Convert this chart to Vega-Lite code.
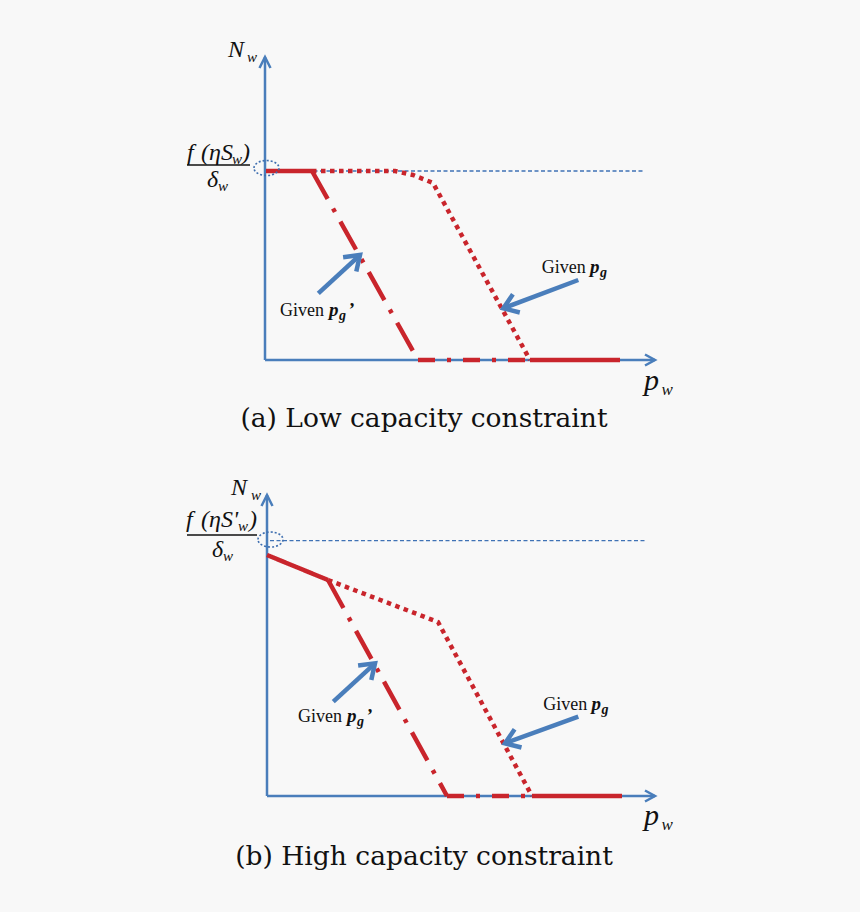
{
  "$schema": "https://vega.github.io/schema/vega-lite/v6.json",
  "background": "#f8f8f8",
  "padding": 0,
  "spacing": 0,
  "config": {"view": {"stroke": null}},
  "resolve": {"scale": {"x": "independent", "y": "independent"}},
  "datasets": {
    "linesA": [
      {"seg": "yaxis", "style": "axis", "o": 0, "x": 0, "y": 0},
      {"seg": "yaxis", "style": "axis", "o": 1, "x": 0, "y": 303},
      {"seg": "yarr", "style": "axis", "o": 0, "x": -5.5, "y": 292},
      {"seg": "yarr", "style": "axis", "o": 1, "x": 0, "y": 303},
      {"seg": "yarr", "style": "axis", "o": 2, "x": 5.5, "y": 292},
      {"seg": "xaxis", "style": "axis", "o": 0, "x": 0, "y": 0},
      {"seg": "xaxis", "style": "axis", "o": 1, "x": 390, "y": 0},
      {"seg": "xarr", "style": "axis", "o": 0, "x": 380, "y": 5.5},
      {"seg": "xarr", "style": "axis", "o": 1, "x": 390, "y": 0},
      {"seg": "xarr", "style": "axis", "o": 2, "x": 380, "y": -5.5},
      {"seg": "ref", "style": "ref", "o": 0, "x": 3, "y": 189},
      {"seg": "ref", "style": "ref", "o": 1, "x": 380, "y": 189},
      {"seg": "bar", "style": "bar", "o": 0, "x": -78, "y": 195},
      {"seg": "bar", "style": "bar", "o": 1, "x": -15, "y": 195},
      {"seg": "flat", "style": "red", "o": 0, "x": 1, "y": 189},
      {"seg": "flat", "style": "red", "o": 1, "x": 47, "y": 189},
      {"seg": "tail", "style": "red", "o": 0, "x": 265, "y": 0},
      {"seg": "tail", "style": "red", "o": 1, "x": 355, "y": 0},
      {"seg": "dd", "style": "dashdot", "o": 0, "x": 47, "y": 189},
      {"seg": "dd", "style": "dashdot", "o": 1, "x": 153, "y": 0},
      {"seg": "dd2", "style": "dashdot2", "o": 0, "x": 153, "y": 0},
      {"seg": "dd2", "style": "dashdot2", "o": 1, "x": 265, "y": 0},
      {"seg": "dot", "style": "dotted", "o": 0, "x": 47, "y": 189},
      {"seg": "dot", "style": "dotted", "o": 1, "x": 130, "y": 189},
      {"seg": "dot", "style": "dotted", "o": 2, "x": 148, "y": 185},
      {"seg": "dot", "style": "dotted", "o": 3, "x": 168, "y": 177},
      {"seg": "dot", "style": "dotted", "o": 4, "x": 265, "y": 0},
      {"seg": "a1", "style": "arrow", "o": 0, "x": 53.3, "y": 66.7},
      {"seg": "a1", "style": "arrow", "o": 1, "x": 95, "y": 105},
      {"seg": "a1h", "style": "arrow", "o": 0, "x": 78.1, "y": 102.8},
      {"seg": "a1h", "style": "arrow", "o": 1, "x": 95, "y": 105},
      {"seg": "a1h", "style": "arrow", "o": 2, "x": 91.3, "y": 88.4},
      {"seg": "a2", "style": "arrow", "o": 0, "x": 313.3, "y": 80},
      {"seg": "a2", "style": "arrow", "o": 1, "x": 238.3, "y": 51.7},
      {"seg": "a2h", "style": "arrow", "o": 0, "x": 254.8, "y": 47.5},
      {"seg": "a2h", "style": "arrow", "o": 1, "x": 238.3, "y": 51.7},
      {"seg": "a2h", "style": "arrow", "o": 2, "x": 247.9, "y": 65.7}
    ],
    "textA": [
      {"x": -37, "y": 303, "t": "N", "role": "M"},
      {"x": -18, "y": 298, "t": "w", "role": "S"},
      {"x": -78, "y": 200, "t": "f", "role": "M"},
      {"x": -64, "y": 200, "t": "(ηS", "role": "M"},
      {"x": -33, "y": 196, "t": "w", "role": "S"},
      {"x": -23, "y": 200, "t": ")", "role": "M"},
      {"x": -58, "y": 173, "t": "δ", "role": "M"},
      {"x": -47, "y": 169, "t": "w", "role": "S"},
      {"x": 15, "y": 44.3, "t": "Given", "role": "G"},
      {"x": 64, "y": 44.3, "t": "p", "role": "B"},
      {"x": 74, "y": 40, "t": "g", "role": "BS"},
      {"x": 83, "y": 44.3, "t": "’", "role": "B"},
      {"x": 276.7, "y": 87.3, "t": "Given", "role": "G"},
      {"x": 325, "y": 87.3, "t": "p", "role": "B"},
      {"x": 335, "y": 83, "t": "g", "role": "BS"},
      {"x": 379, "y": -30, "t": "p", "role": "P"},
      {"x": 396.5, "y": -35, "t": "w", "role": "PS"},
      {"x": 159, "y": -66.7, "t": "(a) Low capacity constraint", "role": "C"}
    ],
    "linesB": [
      {"seg": "yaxis", "style": "axis", "o": 0, "x": 0, "y": 0},
      {"seg": "yaxis", "style": "axis", "o": 1, "x": 0, "y": 301},
      {"seg": "yarr", "style": "axis", "o": 0, "x": -5.5, "y": 290},
      {"seg": "yarr", "style": "axis", "o": 1, "x": 0, "y": 301},
      {"seg": "yarr", "style": "axis", "o": 2, "x": 5.5, "y": 290},
      {"seg": "xaxis", "style": "axis", "o": 0, "x": 0, "y": 0},
      {"seg": "xaxis", "style": "axis", "o": 1, "x": 388, "y": 0},
      {"seg": "xarr", "style": "axis", "o": 0, "x": 378, "y": 5.5},
      {"seg": "xarr", "style": "axis", "o": 1, "x": 388, "y": 0},
      {"seg": "xarr", "style": "axis", "o": 2, "x": 378, "y": -5.5},
      {"seg": "ref", "style": "ref", "o": 0, "x": 3, "y": 255.3},
      {"seg": "ref", "style": "ref", "o": 1, "x": 378, "y": 255.3},
      {"seg": "bar", "style": "bar", "o": 0, "x": -80, "y": 261},
      {"seg": "bar", "style": "bar", "o": 1, "x": -10, "y": 261},
      {"seg": "flat", "style": "red", "o": 0, "x": 0, "y": 241},
      {"seg": "flat", "style": "red", "o": 1, "x": 61, "y": 216},
      {"seg": "tail", "style": "red", "o": 0, "x": 265, "y": 0},
      {"seg": "tail", "style": "red", "o": 1, "x": 355, "y": 0},
      {"seg": "dd", "style": "dashdot", "o": 0, "x": 61, "y": 216},
      {"seg": "dd", "style": "dashdot", "o": 1, "x": 180, "y": 0},
      {"seg": "dd2", "style": "dashdot2", "o": 0, "x": 180, "y": 0},
      {"seg": "dd2", "style": "dashdot2", "o": 1, "x": 265, "y": 0},
      {"seg": "dot", "style": "dotted", "o": 0, "x": 61, "y": 216},
      {"seg": "dot", "style": "dotted", "o": 1, "x": 171, "y": 174},
      {"seg": "dot", "style": "dotted", "o": 2, "x": 265, "y": 0},
      {"seg": "a1", "style": "arrow", "o": 0, "x": 66.3, "y": 94.3},
      {"seg": "a1", "style": "arrow", "o": 1, "x": 108, "y": 132.7},
      {"seg": "a1h", "style": "arrow", "o": 0, "x": 91.1, "y": 130.5},
      {"seg": "a1h", "style": "arrow", "o": 1, "x": 108, "y": 132.7},
      {"seg": "a1h", "style": "arrow", "o": 2, "x": 104.3, "y": 116.1},
      {"seg": "a2", "style": "arrow", "o": 0, "x": 311.3, "y": 79.3},
      {"seg": "a2", "style": "arrow", "o": 1, "x": 238, "y": 52.7},
      {"seg": "a2h", "style": "arrow", "o": 0, "x": 254.5, "y": 48.5},
      {"seg": "a2h", "style": "arrow", "o": 1, "x": 238, "y": 52.7},
      {"seg": "a2h", "style": "arrow", "o": 2, "x": 247.6, "y": 66.7}
    ],
    "textB": [
      {"x": -36, "y": 301, "t": "N", "role": "M"},
      {"x": -16, "y": 296, "t": "w", "role": "S"},
      {"x": -81, "y": 269.3, "t": "f", "role": "M"},
      {"x": -66, "y": 269.3, "t": "(ηS'", "role": "M"},
      {"x": -29, "y": 265, "t": "w", "role": "S"},
      {"x": -18, "y": 269.3, "t": ")", "role": "M"},
      {"x": -55, "y": 239.3, "t": "δ", "role": "M"},
      {"x": -44, "y": 235, "t": "w", "role": "S"},
      {"x": 31, "y": 74.3, "t": "Given", "role": "G"},
      {"x": 80, "y": 74.3, "t": "p", "role": "B"},
      {"x": 90, "y": 70, "t": "g", "role": "BS"},
      {"x": 99, "y": 74.3, "t": "’", "role": "B"},
      {"x": 276.3, "y": 86, "t": "Given", "role": "G"},
      {"x": 324.5, "y": 86, "t": "p", "role": "B"},
      {"x": 334.5, "y": 82, "t": "g", "role": "BS"},
      {"x": 377, "y": -29, "t": "p", "role": "P"},
      {"x": 394.5, "y": -34, "t": "w", "role": "PS"},
      {"x": 157, "y": -69, "t": "(b) High capacity constraint", "role": "C"}
    ]
  },
  "vconcat": [
    {
      "width": 860,
      "height": 456,
      "encoding": {
        "x": {"field": "x", "type": "quantitative", "scale": {"domain": [-265, 595], "nice": false, "zero": false}, "axis": null},
        "y": {"field": "y", "type": "quantitative", "scale": {"domain": [-96, 360], "nice": false, "zero": false}, "axis": null}
      },
      "layer": [
        {"data": {"name": "linesA"}, "transform": [{"filter": "datum.style === 'axis'"}], "mark": {"type": "line", "color": "#4a7ebb", "strokeWidth": 2.5, "strokeCap": "butt"}, "encoding": {"detail": {"field": "seg"}, "order": {"field": "o"}}},
        {"data": {"name": "linesA"}, "transform": [{"filter": "datum.style === 'ref'"}], "mark": {"type": "line", "color": "#3f72b5", "strokeWidth": 1.3, "strokeDash": [4, 2.5]}, "encoding": {"detail": {"field": "seg"}, "order": {"field": "o"}}},
        {"data": {"name": "linesA"}, "transform": [{"filter": "datum.style === 'bar'"}], "mark": {"type": "line", "color": "#111111", "strokeWidth": 1.3}, "encoding": {"detail": {"field": "seg"}, "order": {"field": "o"}}},
        {"data": {"name": "linesA"}, "transform": [{"filter": {"field": "style", "oneOf": ["red", "dashdot", "dashdot2", "dotted"]}}], "mark": {"type": "line", "color": "#c9252c", "strokeWidth": 4.5, "strokeCap": "butt"}, "encoding": {"detail": {"field": "seg"}, "order": {"field": "o"}, "strokeDash": {"field": "style", "type": "nominal", "scale": {"domain": ["red", "dashdot", "dashdot2", "dotted"], "range": [[1, 0], [32, 11, 4, 11], [17, 12, 4, 12], [4.5, 4.5]]}, "legend": null}}},
        {"data": {"name": "linesA"}, "transform": [{"filter": "datum.style === 'arrow'"}], "mark": {"type": "line", "color": "#4a7ebb", "strokeWidth": 4.5, "strokeCap": "butt", "strokeJoin": "miter"}, "encoding": {"detail": {"field": "seg"}, "order": {"field": "o"}}},
        {"data": {"values": [{"x": 1.5, "y": 192}]}, "mark": {"type": "point", "shape": "M -1 0 A 1 0.6 0 1 1 1 0 A 1 0.6 0 1 1 -1 0 Z", "size": 625, "filled": false, "color": "#3f6fb0", "strokeWidth": 1.6, "strokeDash": [2, 2], "opacity": 1}},
        {"data": {"name": "textA"}, "transform": [{"filter": "datum.role === 'M'"}], "mark": {"type": "text", "font": "Liberation Serif", "fontStyle": "italic", "fontSize": 24, "align": "left", "baseline": "alphabetic", "color": "#111111"}, "encoding": {"text": {"field": "t"}}},
        {"data": {"name": "textA"}, "transform": [{"filter": "datum.role === 'S'"}], "mark": {"type": "text", "font": "Liberation Serif", "fontStyle": "italic", "fontSize": 15, "align": "left", "baseline": "alphabetic", "color": "#111111"}, "encoding": {"text": {"field": "t"}}},
        {"data": {"name": "textA"}, "transform": [{"filter": "datum.role === 'P'"}], "mark": {"type": "text", "font": "Liberation Serif", "fontStyle": "italic", "fontSize": 30, "align": "left", "baseline": "alphabetic", "color": "#111111"}, "encoding": {"text": {"field": "t"}}},
        {"data": {"name": "textA"}, "transform": [{"filter": "datum.role === 'PS'"}], "mark": {"type": "text", "font": "Liberation Serif", "fontStyle": "italic", "fontSize": 17, "align": "left", "baseline": "alphabetic", "color": "#111111"}, "encoding": {"text": {"field": "t"}}},
        {"data": {"name": "textA"}, "transform": [{"filter": "datum.role === 'G'"}], "mark": {"type": "text", "font": "Liberation Serif", "fontSize": 18, "align": "left", "baseline": "alphabetic", "color": "#111111"}, "encoding": {"text": {"field": "t"}}},
        {"data": {"name": "textA"}, "transform": [{"filter": "datum.role === 'B'"}], "mark": {"type": "text", "font": "Liberation Serif", "fontStyle": "italic", "fontWeight": "bold", "fontSize": 19, "align": "left", "baseline": "alphabetic", "color": "#111111"}, "encoding": {"text": {"field": "t"}}},
        {"data": {"name": "textA"}, "transform": [{"filter": "datum.role === 'BS'"}], "mark": {"type": "text", "font": "Liberation Serif", "fontStyle": "italic", "fontWeight": "bold", "fontSize": 14, "align": "left", "baseline": "alphabetic", "color": "#111111"}, "encoding": {"text": {"field": "t"}}},
        {"data": {"name": "textA"}, "transform": [{"filter": "datum.role === 'C'"}], "mark": {"type": "text", "font": "DejaVu Serif", "fontSize": 26.5, "align": "center", "baseline": "alphabetic", "color": "#111111"}, "encoding": {"text": {"field": "t"}}}
      ]
    },
    {
      "width": 860,
      "height": 456,
      "encoding": {
        "x": {"field": "x", "type": "quantitative", "scale": {"domain": [-267, 593], "nice": false, "zero": false}, "axis": null},
        "y": {"field": "y", "type": "quantitative", "scale": {"domain": [-116, 340], "nice": false, "zero": false}, "axis": null}
      },
      "layer": [
        {"data": {"name": "linesB"}, "transform": [{"filter": "datum.style === 'axis'"}], "mark": {"type": "line", "color": "#4a7ebb", "strokeWidth": 2.5, "strokeCap": "butt"}, "encoding": {"detail": {"field": "seg"}, "order": {"field": "o"}}},
        {"data": {"name": "linesB"}, "transform": [{"filter": "datum.style === 'ref'"}], "mark": {"type": "line", "color": "#3f72b5", "strokeWidth": 1.3, "strokeDash": [4, 2.5]}, "encoding": {"detail": {"field": "seg"}, "order": {"field": "o"}}},
        {"data": {"name": "linesB"}, "transform": [{"filter": "datum.style === 'bar'"}], "mark": {"type": "line", "color": "#111111", "strokeWidth": 1.3}, "encoding": {"detail": {"field": "seg"}, "order": {"field": "o"}}},
        {"data": {"name": "linesB"}, "transform": [{"filter": {"field": "style", "oneOf": ["red", "dashdot", "dashdot2", "dotted"]}}], "mark": {"type": "line", "color": "#c9252c", "strokeWidth": 4.5, "strokeCap": "butt"}, "encoding": {"detail": {"field": "seg"}, "order": {"field": "o"}, "strokeDash": {"field": "style", "type": "nominal", "scale": {"domain": ["red", "dashdot", "dashdot2", "dotted"], "range": [[1, 0], [32, 11, 4, 11], [17, 12, 4, 12], [4.5, 4.5]]}, "legend": null}}},
        {"data": {"name": "linesB"}, "transform": [{"filter": "datum.style === 'arrow'"}], "mark": {"type": "line", "color": "#4a7ebb", "strokeWidth": 4.5, "strokeCap": "butt", "strokeJoin": "miter"}, "encoding": {"detail": {"field": "seg"}, "order": {"field": "o"}}},
        {"data": {"values": [{"x": 3.5, "y": 256.5}]}, "mark": {"type": "point", "shape": "M -1 0 A 1 0.6 0 1 1 1 0 A 1 0.6 0 1 1 -1 0 Z", "size": 625, "filled": false, "color": "#3f6fb0", "strokeWidth": 1.6, "strokeDash": [2, 2], "opacity": 1}},
        {"data": {"name": "textB"}, "transform": [{"filter": "datum.role === 'M'"}], "mark": {"type": "text", "font": "Liberation Serif", "fontStyle": "italic", "fontSize": 24, "align": "left", "baseline": "alphabetic", "color": "#111111"}, "encoding": {"text": {"field": "t"}}},
        {"data": {"name": "textB"}, "transform": [{"filter": "datum.role === 'S'"}], "mark": {"type": "text", "font": "Liberation Serif", "fontStyle": "italic", "fontSize": 15, "align": "left", "baseline": "alphabetic", "color": "#111111"}, "encoding": {"text": {"field": "t"}}},
        {"data": {"name": "textB"}, "transform": [{"filter": "datum.role === 'P'"}], "mark": {"type": "text", "font": "Liberation Serif", "fontStyle": "italic", "fontSize": 30, "align": "left", "baseline": "alphabetic", "color": "#111111"}, "encoding": {"text": {"field": "t"}}},
        {"data": {"name": "textB"}, "transform": [{"filter": "datum.role === 'PS'"}], "mark": {"type": "text", "font": "Liberation Serif", "fontStyle": "italic", "fontSize": 17, "align": "left", "baseline": "alphabetic", "color": "#111111"}, "encoding": {"text": {"field": "t"}}},
        {"data": {"name": "textB"}, "transform": [{"filter": "datum.role === 'G'"}], "mark": {"type": "text", "font": "Liberation Serif", "fontSize": 18, "align": "left", "baseline": "alphabetic", "color": "#111111"}, "encoding": {"text": {"field": "t"}}},
        {"data": {"name": "textB"}, "transform": [{"filter": "datum.role === 'B'"}], "mark": {"type": "text", "font": "Liberation Serif", "fontStyle": "italic", "fontWeight": "bold", "fontSize": 19, "align": "left", "baseline": "alphabetic", "color": "#111111"}, "encoding": {"text": {"field": "t"}}},
        {"data": {"name": "textB"}, "transform": [{"filter": "datum.role === 'BS'"}], "mark": {"type": "text", "font": "Liberation Serif", "fontStyle": "italic", "fontWeight": "bold", "fontSize": 14, "align": "left", "baseline": "alphabetic", "color": "#111111"}, "encoding": {"text": {"field": "t"}}},
        {"data": {"name": "textB"}, "transform": [{"filter": "datum.role === 'C'"}], "mark": {"type": "text", "font": "DejaVu Serif", "fontSize": 26.5, "align": "center", "baseline": "alphabetic", "color": "#111111"}, "encoding": {"text": {"field": "t"}}}
      ]
    }
  ]
}
